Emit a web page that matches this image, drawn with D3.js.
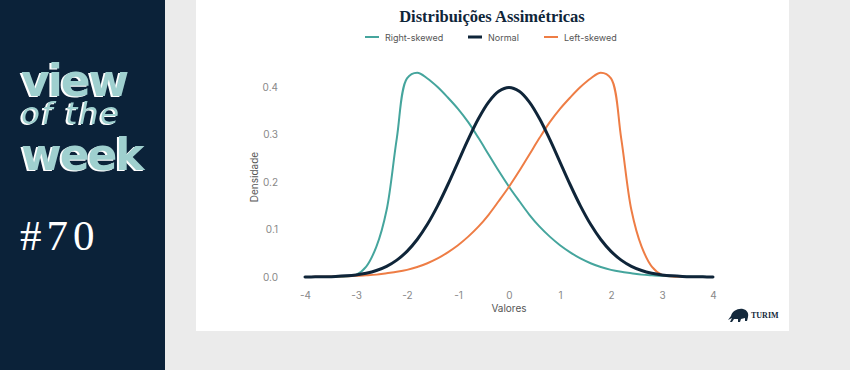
<!DOCTYPE html>
<html>
<head>
<meta charset="utf-8">
<script src="https://cdn.jsdelivr.net/npm/d3@7"></script>
<style>
  html, body { margin: 0; padding: 0; background: #ebebeb; }
  svg { display: block; }
</style>
</head>
<body>
<div id="chart"></div>
<script>
// ---- Data ----
const xValues = [-4.0,-3.8,-3.6,-3.4,-3.2,-3.0,-2.8,-2.6,-2.4,-2.2,-2.0,-1.8,-1.6,-1.4,-1.2,-1.0,-0.8,-0.6,-0.4,-0.2,0.0,
                 0.2,0.4,0.6,0.8,1.0,1.2,1.4,1.6,1.8,2.0,2.2,2.4,2.6,2.8,3.0,3.2,3.4,3.6,3.8,4.0];
const rightSkewed = [0.0000,0.0000,0.0000,0.0002,0.0010,0.0045,0.022,0.064,0.141,0.292,0.418,0.430,0.418,0.400,0.378,0.354,0.326,0.293,0.258,0.223,0.190,
                     0.160,0.131,0.106,0.085,0.067,0.052,0.039,0.029,0.021,0.015,0.011,0.008,0.005,0.0035,0.0025,0.0015,0.0010,0.0006,0.0003,0.0002];
const normal = [0.0001,0.0003,0.0006,0.0012,0.0024,0.0044,0.0079,0.0136,0.0224,0.0355,0.0540,0.0790,0.1109,0.1497,0.1942,0.2420,0.2897,0.3332,0.3683,0.3910,0.3989,
                0.3910,0.3683,0.3332,0.2897,0.2420,0.1942,0.1497,0.1109,0.0790,0.0540,0.0355,0.0224,0.0136,0.0079,0.0044,0.0024,0.0012,0.0006,0.0003,0.0001];
const leftSkewed = [0.0002,0.0003,0.0006,0.0010,0.0015,0.0025,0.0035,0.005,0.008,0.011,0.015,0.021,0.029,0.039,0.052,0.067,0.085,0.106,0.131,0.160,0.190,
                    0.223,0.258,0.293,0.326,0.354,0.378,0.400,0.418,0.430,0.418,0.292,0.141,0.064,0.022,0.0045,0.0010,0.0002,0.0000,0.0000,0.0000];
const seriesNames = ["Right-skewed", "Normal", "Left-skewed"];
const seriesColors = ["#45a59d", "#0f2539", "#ee7d45"];
const xTicks = [-4,-3,-2,-1,0,1,2,3,4];
const yTicks = [0.0,0.1,0.2,0.3,0.4];
const titleText = "Distribuições Assimétricas";

const W = 850, H = 370;
const svg = d3.select("#chart").append("svg").attr("width", W).attr("height", H);

// filter: white offset layer behind teal text
const defs = svg.append("defs");
const f = defs.append("filter").attr("id","edge").attr("x","-10%").attr("y","-10%").attr("width","120%").attr("height","130%");
f.append("feOffset").attr("in","SourceAlpha").attr("dx",-1.6).attr("dy",1.3).attr("result","off");
f.append("feFlood").attr("flood-color","#ffffff").attr("result","white");
f.append("feComposite").attr("in","white").attr("in2","off").attr("operator","in").attr("result","shadow");
const fm = f.append("feMerge");
fm.append("feMergeNode").attr("in","shadow");
fm.append("feMergeNode").attr("in","SourceGraphic");

// backgrounds
svg.append("rect").attr("x",0).attr("y",0).attr("width",W).attr("height",H).attr("fill","#ebebeb");
svg.append("rect").attr("x",0).attr("y",0).attr("width",165).attr("height",H).attr("fill","#0b2239");
svg.append("rect").attr("x",196).attr("y",0).attr("width",593).attr("height",331).attr("fill","#ffffff");

// left panel text (one text element, three lines)
const brand = svg.append("text").attr("font-family","DejaVu Sans").attr("fill","#9fd0cf").attr("filter","url(#edge)");
brand.append("tspan").attr("x",21).attr("y",96).attr("font-size",44).attr("font-weight","bold").attr("letter-spacing",-2).text("view");
brand.append("tspan").attr("x",21).attr("y",124).attr("font-size",31).attr("font-style","italic").attr("letter-spacing",1.5).text("of the");
brand.append("tspan").attr("x",21).attr("y",170).attr("font-size",44).attr("font-weight","bold").attr("letter-spacing",-2).text("week");
svg.append("text").attr("x", 20).attr("y", 250).text("#70")
  .attr("font-family", "Liberation Serif").attr("font-size", 43).attr("font-weight", 300)
  .attr("fill", "#ffffff").attr("letter-spacing", 5);

// scales
const x = d3.scaleLinear().domain([-4, 4]).range([305, 713]);
const y = d3.scaleLinear().domain([0, 0.4]).range([277, 87]);

// title
svg.append("text").attr("x", 492).attr("y", 22).attr("text-anchor","middle")
  .attr("font-family","Liberation Serif").attr("font-weight","bold").attr("font-size",16.5)
  .attr("fill","#0f2539").text(titleText);

// legend
const legendX = [365, 468, 544];
const leg = svg.append("g").attr("font-family","Inter, Lato, sans-serif").attr("font-size",9).attr("fill","#555");
seriesNames.forEach((n,i) => {
  leg.append("line").attr("x1",legendX[i]).attr("x2",legendX[i]+14).attr("y1",37).attr("y2",37)
    .attr("stroke",seriesColors[i]).attr("stroke-width", i===1 ? 3 : 2);
  leg.append("text").attr("x",legendX[i]+20).attr("y",40.5).text(n);
});

// axes
const yAxis = svg.append("g").attr("transform","translate(287,0)")
  .call(d3.axisLeft(y).tickValues(yTicks).tickSize(0).tickPadding(9).tickFormat(d3.format(".1f")));
const xAxis = svg.append("g").attr("transform","translate(0,287)")
  .call(d3.axisBottom(x).tickValues(xTicks).tickSize(0).tickPadding(5).tickFormat(d => String(d)));
[yAxis, xAxis].forEach(a => {
  a.select(".domain").remove();
  a.selectAll("text").attr("font-family","Inter, Lato, sans-serif").attr("font-size",10).attr("fill","#888");
});

svg.append("text").attr("x",509).attr("y",312).attr("text-anchor","middle")
  .attr("font-family","Inter, Lato, sans-serif").attr("font-size",10).attr("fill","#555").text("Valores");
svg.append("text").attr("transform","translate(258,177) rotate(-90)").attr("text-anchor","middle")
  .attr("font-family","Inter, Lato, sans-serif").attr("font-size",10).attr("fill","#555").text("Densidade");

// lines
const series = [rightSkewed, normal, leftSkewed];
const line = d3.line().x((d,i) => x(xValues[i])).y(d => y(Math.max(0, d))).curve(d3.curveCatmullRom.alpha(0.5));
[0,2,1].forEach(i => {
  svg.append("path").datum(series[i]).attr("d", line).attr("fill","none")
    .attr("stroke", seriesColors[i]).attr("stroke-width", i===1 ? 3 : 2)
    .attr("stroke-linejoin","round").attr("stroke-linecap","round");
});

// logo
const logo = svg.append("g").attr("transform","translate(726,308)");
logo.append("path").attr("d","M2,12 L5,8 C6,3 12,0 17,1 C21,2 23,5 22,9 L21,13 L19,13 L19,10 L15,11 L14,14 L12,14 L12,11 L8,11 L6,14 L4,14 L6,10 Z")
  .attr("fill","#14293c");
logo.append("text").attr("x",25).attr("y",10).text("TURIM")
  .attr("font-family","Liberation Serif").attr("font-weight","bold").attr("font-size",8).attr("fill","#14293c");
</script>
</body>
</html>
